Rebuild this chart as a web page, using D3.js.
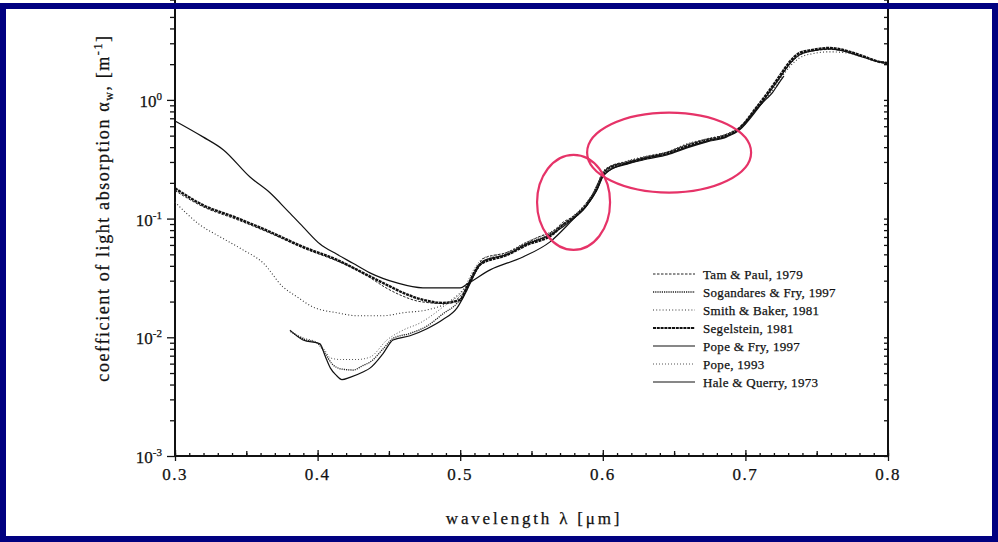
<!DOCTYPE html>
<html><head><meta charset="utf-8">
<script src="https://cdn.jsdelivr.net/npm/d3@7"></script>
<style>
body{margin:0;background:#fff}
svg{display:block}
text{font-family:"Liberation Serif","Times New Roman",serif;fill:#111;stroke:#111;stroke-width:0.25}
</style>
</head><body>
<svg id="c" width="998" height="542"></svg>
<script>
// ---------- data ----------
const xMajorTicks = [0.3, 0.4, 0.5, 0.6, 0.7, 0.8];
const xTickLabels = ["0.3", "0.4", "0.5", "0.6", "0.7", "0.8"];
const yMajorTicks = [1e-3, 1e-2, 1e-1, 1];
const yTickExponents = ["-3", "-2", "-1", "0"];

const seriesNames = ["Tam & Paul, 1979", "Sogandares & Fry, 1997", "Smith & Baker, 1981",
  "Segelstein, 1981", "Pope & Fry, 1997", "Pope, 1993", "Hale & Querry, 1973"];

// wavelength [µm], absorption [1/m]
const tamPaul = [[0.300,0.172],[0.3196,0.126],[0.3435,0.098],[0.3666,0.0755],[0.3898,0.0565],[0.4136,0.0440],[0.4248,0.0385],[0.4367,0.0318],[0.4487,0.0258],[0.4599,0.0222],[0.4718,0.0200],[0.4907,0.0192],[0.502,0.0237],[0.511,0.037],[0.516,0.046],[0.533,0.052],[0.547,0.063],[0.556,0.071],[0.565,0.078],[0.572,0.093],[0.579,0.104],[0.589,0.138],[0.596,0.186],[0.600,0.243],[0.605,0.276],[0.617,0.302],[0.631,0.334],[0.645,0.362],[0.659,0.422],[0.673,0.466],[0.687,0.512],[0.696,0.585],[0.708,0.86],[0.717,1.17],[0.724,1.52],[0.731,1.98],[0.738,2.38],[0.747,2.58],[0.759,2.66],[0.771,2.56],[0.782,2.33],[0.794,2.10],[0.800,2.06]];
const sogandaresFry = [[0.381,0.0112],[0.390,0.0097],[0.400,0.0089],[0.405,0.0074],[0.410,0.0060],[0.417,0.0054],[0.425,0.0053],[0.432,0.0058],[0.437,0.0062],[0.446,0.0080],[0.453,0.0098],[0.465,0.0108],[0.477,0.0125],[0.488,0.0158],[0.498,0.0195],[0.505,0.026],[0.515,0.042],[0.533,0.0505],[0.547,0.062],[0.560,0.071],[0.572,0.088],[0.580,0.103],[0.590,0.137],[0.600,0.236],[0.605,0.270],[0.617,0.297],[0.631,0.330],[0.640,0.345]];
const smithBaker = [[0.300,0.138],[0.3175,0.0885],[0.3316,0.0702],[0.3477,0.0545],[0.3617,0.0424],[0.3757,0.0266],[0.3856,0.0219],[0.3968,0.0180],[0.4136,0.0161],[0.4276,0.0152],[0.4459,0.0152],[0.460,0.0161],[0.4767,0.0170],[0.4907,0.0195],[0.502,0.0251],[0.511,0.0356],[0.516,0.043],[0.533,0.052],[0.547,0.0637],[0.565,0.079],[0.579,0.105],[0.589,0.138],[0.596,0.190],[0.600,0.250],[0.617,0.306],[0.631,0.337],[0.645,0.364],[0.659,0.426],[0.673,0.470],[0.687,0.517],[0.696,0.590],[0.708,0.84],[0.717,1.12],[0.724,1.47],[0.731,1.90],[0.738,2.26],[0.747,2.45],[0.759,2.54],[0.771,2.49],[0.782,2.30],[0.794,2.09],[0.800,2.05]];
const segelstein = [[0.300,0.180],[0.3196,0.130],[0.3435,0.101],[0.3666,0.0773],[0.3898,0.0578],[0.4136,0.0449],[0.4318,0.0349],[0.4487,0.0276],[0.460,0.0237],[0.4739,0.0207],[0.4879,0.0195],[0.500,0.0207],[0.5048,0.0266],[0.5139,0.041],[0.5328,0.0494],[0.5468,0.060],[0.565,0.074],[0.572,0.0885],[0.579,0.101],[0.589,0.133],[0.596,0.182],[0.600,0.233],[0.605,0.268],[0.617,0.294],[0.631,0.325],[0.645,0.357],[0.659,0.410],[0.673,0.460],[0.687,0.507],[0.696,0.581],[0.708,0.873],[0.717,1.21],[0.724,1.59],[0.731,2.09],[0.738,2.49],[0.747,2.64],[0.759,2.74],[0.771,2.59],[0.782,2.35],[0.794,2.09],[0.800,2.05]];
const popeFry = [[0.3806,0.0115],[0.3898,0.0095],[0.4017,0.0088],[0.4052,0.0070],[0.409,0.0055],[0.413,0.0048],[0.4171,0.0044],[0.4227,0.0046],[0.4318,0.0051],[0.4367,0.0055],[0.4459,0.0073],[0.4529,0.0095],[0.4648,0.0103],[0.4767,0.0118],[0.4879,0.0141],[0.4978,0.0177],[0.5048,0.0251],[0.510,0.034],[0.516,0.044],[0.533,0.050],[0.547,0.061],[0.565,0.075],[0.579,0.099],[0.589,0.130],[0.596,0.178],[0.600,0.229],[0.617,0.294],[0.631,0.325],[0.645,0.350],[0.659,0.400],[0.673,0.450],[0.687,0.497],[0.696,0.570],[0.708,0.84],[0.714,1.00],[0.719,1.15],[0.723,1.36],[0.727,1.59]];
const pope93 = [[0.3806,0.0113],[0.3898,0.0099],[0.400,0.0090],[0.405,0.0078],[0.409,0.0067],[0.416,0.0065],[0.4276,0.0065],[0.4367,0.0068],[0.4487,0.0095],[0.460,0.0115],[0.4718,0.0132],[0.4879,0.0180],[0.502,0.0251],[0.510,0.038],[0.516,0.0464],[0.533,0.052],[0.547,0.0637],[0.565,0.077],[0.579,0.102],[0.589,0.136],[0.596,0.184],[0.600,0.240],[0.617,0.300],[0.631,0.333],[0.645,0.360],[0.659,0.418],[0.673,0.462],[0.687,0.510],[0.700,0.62]];
const haleQuerry = [[0.300,0.665],[0.3196,0.488],[0.334,0.379],[0.3526,0.224],[0.3666,0.165],[0.3785,0.118],[0.3898,0.0851],[0.4017,0.0610],[0.4136,0.0500],[0.4248,0.0420],[0.4367,0.0349],[0.4557,0.0287],[0.4739,0.0261],[0.500,0.0261],[0.505,0.0282],[0.521,0.0370],[0.544,0.0475],[0.563,0.0637],[0.579,0.098],[0.589,0.130],[0.596,0.175],[0.600,0.224],[0.605,0.257],[0.617,0.288],[0.631,0.318],[0.645,0.344],[0.659,0.394],[0.673,0.443],[0.687,0.488],[0.696,0.560],[0.708,0.824],[0.717,1.17],[0.724,1.53],[0.731,2.01],[0.738,2.40],[0.747,2.59],[0.759,2.69],[0.771,2.54],[0.782,2.30],[0.794,2.09],[0.800,2.01]];

const seriesData = [tamPaul, sogandaresFry, smithBaker, segelstein, popeFry, pope93, haleQuerry];

// annotation ellipses: centre (wavelength, absorption)
const ellipseCentres = [[0.5795, 0.137], [0.6465, 0.36]];

// ---------- styles ----------
const seriesStyle = [
  {w:1.0, dash:"2.5,1.5", c:"#222"},
  {w:1.3, dash:"1.2,1.0", c:"#222"},
  {w:1.1, dash:"1,2.2", c:"#333"},
  {w:2.4, dash:"3,0.8", c:"#111"},
  {w:1.2, dash:null, c:"#111"},
  {w:1.0, dash:"1,2", c:"#555"},
  {w:1.2, dash:null, c:"#111"}
];
const ellipseR = [[36.5, 47.5], [82, 40]];

// ---------- chart ----------
const svg = d3.select("#c");
const x = d3.scaleLinear().domain([0.3, 0.8]).range([175, 888]);
const y = d3.scaleLog().domain([1e-3, 10]).range([456, 456 - 4 * 118.7]);

const xMinor = d3.range(30, 81).map(d => d / 100);
const xMid = d3.range(35, 80, 10).map(d => d / 100);
const yMinor = [];
[1e-3, 1e-2, 1e-1, 1].forEach(dec => { for (let k = 2; k <= 9; k++) yMinor.push(dec * k); });

function styleAxis(g) {
  g.select(".domain").remove();
  g.selectAll("line").attr("stroke", "#111").attr("stroke-width", 1.3);
}

svg.append("g").attr("transform", `translate(0,${y(1e-3)})`)
  .call(d3.axisBottom(x).tickValues(xMinor).tickSizeInner(-3).tickSizeOuter(0).tickFormat(""))
  .call(styleAxis);
svg.append("g").attr("transform", `translate(0,${y(1e-3)})`)
  .call(d3.axisBottom(x).tickValues(xMid).tickSizeInner(-5).tickSizeOuter(0).tickFormat(""))
  .call(styleAxis);
svg.append("g").attr("transform", `translate(0,${y(1e-3)})`)
  .call(d3.axisBottom(x).tickValues(xMajorTicks).tickSizeInner(5).tickSizeOuter(0).tickFormat(""))
  .call(styleAxis);
svg.append("g").attr("transform", `translate(0,${y(1e-3)})`)
  .call(d3.axisBottom(x).tickValues(xMajorTicks).tickSizeInner(-6).tickSizeOuter(0).tickFormat(""))
  .call(styleAxis);

svg.append("g").attr("transform", `translate(${x(0.3)},0)`)
  .call(d3.axisLeft(y).tickValues(yMinor).tickSizeInner(5).tickSizeOuter(0).tickFormat(""))
  .call(styleAxis);
svg.append("g").attr("transform", `translate(${x(0.3)},0)`)
  .call(d3.axisLeft(y).tickValues(yMajorTicks).tickSizeInner(8).tickSizeOuter(0).tickFormat(""))
  .call(styleAxis);
svg.append("g").attr("transform", `translate(${x(0.8)},0)`)
  .call(d3.axisRight(y).tickValues(yMinor.concat(yMajorTicks)).tickSizeInner(-4).tickSizeOuter(0).tickFormat(""))
  .call(styleAxis);

svg.append("line").attr("x1", x(0.3)).attr("x2", x(0.8)).attr("y1", y(1e-3)).attr("y2", y(1e-3))
  .attr("stroke", "#111").attr("stroke-width", 2);
svg.append("line").attr("x1", x(0.3)).attr("x2", x(0.3)).attr("y1", y(1e-3) + 1).attr("y2", 0)
  .attr("stroke", "#111").attr("stroke-width", 2);
svg.append("line").attr("x1", x(0.8)).attr("x2", x(0.8)).attr("y1", y(1e-3) + 1).attr("y2", 0)
  .attr("stroke", "#111").attr("stroke-width", 2);

svg.append("g").selectAll("text").data(xMajorTicks).join("text")
  .attr("x", d => x(d)).attr("y", y(1e-3) + 24)
  .attr("text-anchor", "middle").attr("font-size", 17).attr("letter-spacing", 1.5)
  .text((d, i) => xTickLabels[i]);

const yl = svg.append("g").selectAll("text").data(yMajorTicks).join("text")
  .attr("x", x(0.3) - 13).attr("y", d => y(d) + 7)
  .attr("text-anchor", "end").attr("font-size", 17);
yl.append("tspan").text("10");
yl.append("tspan").attr("dy", -7).attr("font-size", 11).text((d, i) => yTickExponents[i]);

svg.append("text").attr("x", 534).attr("y", 524).attr("text-anchor", "middle")
  .attr("font-size", 17).attr("letter-spacing", 2.8)
  .text("wavelength  λ [μm]");

const yt = svg.append("text").attr("transform", "translate(109,208) rotate(-90)")
  .attr("text-anchor", "middle").attr("font-size", 18).attr("letter-spacing", 1.6);
yt.append("tspan").text("coefficient of light absorption α");
yt.append("tspan").attr("dy", 4).attr("font-size", 12).text("w");
yt.append("tspan").attr("dy", -4).text(", [m");
yt.append("tspan").attr("dy", -7).attr("font-size", 12).text("-1");
yt.append("tspan").attr("dy", 7).text("]");

const line = d3.line().x(d => x(d[0])).y(d => y(d[1])).curve(d3.curveMonotoneX);
svg.append("g").selectAll("path").data(seriesData).join("path")
  .attr("d", line).attr("fill", "none")
  .attr("stroke", (d, i) => seriesStyle[i].c)
  .attr("stroke-width", (d, i) => seriesStyle[i].w)
  .attr("stroke-dasharray", (d, i) => seriesStyle[i].dash)
  .attr("stroke-linejoin", "round");

const lg = svg.append("g").attr("transform", "translate(653,274)");
const rows = lg.selectAll("g").data(seriesNames).join("g")
  .attr("transform", (d, i) => `translate(0,${i * 18})`);
rows.append("line").attr("x1", 0).attr("x2", 42).attr("y1", 0).attr("y2", 0)
  .attr("stroke", (d, i) => seriesStyle[i].c)
  .attr("stroke-width", (d, i) => Math.min(seriesStyle[i].w, 2))
  .attr("stroke-dasharray", (d, i) => seriesStyle[i].dash);
rows.append("text").attr("x", 50).attr("y", 4.5).attr("font-size", 13).attr("letter-spacing", 0.3)
  .text(d => d);

svg.append("g").selectAll("ellipse").data(ellipseCentres).join("ellipse")
  .attr("cx", d => x(d[0])).attr("cy", d => y(d[1]))
  .attr("rx", (d, i) => ellipseR[i][0]).attr("ry", (d, i) => ellipseR[i][1])
  .attr("fill", "none").attr("stroke", "#e63368").attr("stroke-width", 2.2);

svg.append("rect").attr("x", 3).attr("y", 6).attr("width", 992).attr("height", 533)
  .attr("fill", "none").attr("stroke", "#000080").attr("stroke-width", 6);
</script>
</body></html>
